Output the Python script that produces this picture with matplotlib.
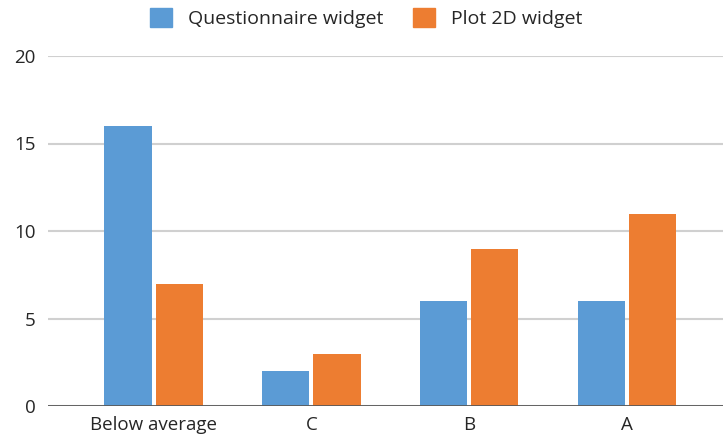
import numpy as np
import matplotlib.pyplot as plt
from matplotlib.patches import Patch

plt.rcParams['font.family'] = ['Open Sans', 'DejaVu Sans']

# data
categories = ['Below average', 'C', 'B', 'A']
questionnaire = [16, 2, 6, 6]
plot2d = [7, 3, 9, 11]

blue = '#5B9BD5'
orange = '#ED7D31'
text_col = '#262626'

fig = plt.figure(figsize=(7.23, 4.41), dpi=100)
ax = fig.add_axes([48 / 723, 35 / 441, 675 / 723, 350 / 441])

x = np.arange(len(categories))
w = 0.30
ax.bar(x - 0.162, questionnaire, width=w, color=blue, zorder=3)
ax.bar(x + 0.162, plot2d, width=w, color=orange, zorder=3)

ax.set_xlim(-0.67, 3.61)
ax.set_ylim(0, 20)
ax.set_yticks([0, 5, 10, 15, 20])
ax.set_xticks(x)
ax.set_xticklabels(categories)
ax.yaxis.grid(True, color='#D0D0D0', linewidth=1.5, zorder=0)
ax.axhline(0, color='#595959', linewidth=2, zorder=4)
for s in ax.spines.values():
    s.set_visible(False)
ax.tick_params(axis='both', length=0, labelsize=13.5, colors=text_col)
ax.tick_params(axis='y', pad=9)
ax.tick_params(axis='x', pad=7)

handles = [Patch(color=blue, label='Questionnaire widget'),
           Patch(color=orange, label='Plot 2D widget')]
fig.legend(handles=handles, loc='center', bbox_to_anchor=(366 / 723, 1 - 18 / 441),
           ncol=2, frameon=False, fontsize=14, handlelength=1.15, handleheight=1.15,
           columnspacing=1.55, handletextpad=0.8, labelcolor=text_col)

fig.savefig('out.png', dpi=100)
